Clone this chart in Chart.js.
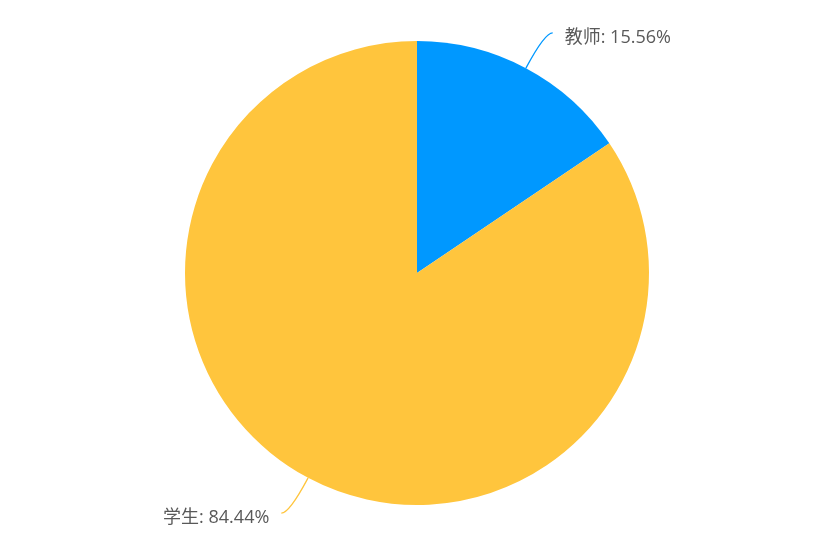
<!DOCTYPE html>
<html>
<head>
<meta charset="utf-8">
<script src="https://cdn.jsdelivr.net/npm/chart.js@4"></script>
<style>
  html, body { margin: 0; padding: 0; background: #fff; }
  #wrap { width: 834px; height: 556px; }
</style>
</head>
<body>
<div id="wrap"><canvas id="chartRol"></canvas></div>
<script>
const categorias = ['教师', '学生'];
const cantidades = [7, 38];
const colores = ['#0098ff', '#ffc53d'];

// ---- etiquetas con línea guía ----
const etiquetasGuia = {
    id: 'etiquetasGuia',
    afterDatasetsDraw(chart) {
        const ctx = chart.ctx;
        const meta = chart.getDatasetMeta(0);
        const total = cantidades.reduce((a, b) => a + b, 0);
        ctx.save();
        ctx.font = '18px "Open Sans", "Noto Sans CJK SC", sans-serif';
        ctx.textBaseline = 'middle';
        meta.data.forEach((arc, i) => {
            const p = arc.getProps(['x', 'y', 'startAngle', 'endAngle', 'outerRadius'], true);
            const mid = (p.startAngle + p.endAngle) / 2;
            const dx = Math.cos(mid), dy = Math.sin(mid);
            const x0 = p.x + dx * p.outerRadius;
            const y0 = p.y + dy * p.outerRadius;
            const cx = x0 + dx * 40;
            const cy = y0 + dy * 40;
            const lado = dx >= 0 ? 1 : -1;
            const x1 = cx + lado * 8;
            ctx.strokeStyle = colores[i];
            ctx.lineWidth = 1.3;
            ctx.beginPath();
            ctx.moveTo(x0, y0);
            ctx.quadraticCurveTo(cx, cy, x1, cy);
            ctx.stroke();
            const pct = (cantidades[i] / total * 100).toFixed(2);
            ctx.fillStyle = '#595959';
            ctx.textAlign = lado > 0 ? 'left' : 'right';
            ctx.fillText(categorias[i] + ': ' + pct + '%', x1 + lado * 12, cy + 5);
        });
        ctx.restore();
    }
};

const ctx = document.getElementById('chartRol').getContext('2d');
new Chart(ctx, {
    type: 'pie',
    data: {
        labels: categorias,
        datasets: [{
            data: cantidades,
            backgroundColor: colores,
            borderWidth: 0
        }]
    },
    options: {
        responsive: true,
        maintainAspectRatio: false,
        animation: false,
        layout: { padding: { top: 41, bottom: 51 } },
        plugins: {
            legend: { display: false },
            tooltip: { enabled: false }
        }
    },
    plugins: [etiquetasGuia]
});
</script>
</body>
</html>
